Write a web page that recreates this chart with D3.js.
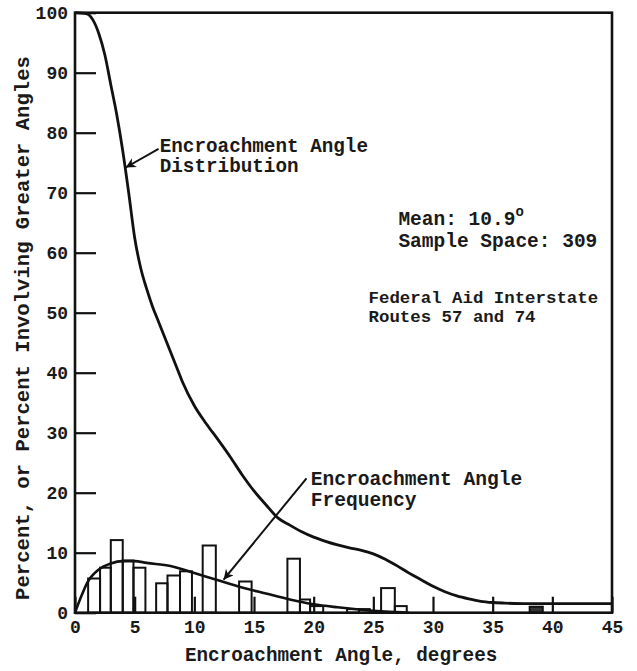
<!DOCTYPE html>
<html lang="en">
<head>
<meta charset="UTF-8">
<title>Encroachment Angle</title>
<style>
  body { margin: 0; background: #fff; }
  text { font-family: "Liberation Mono", "DejaVu Sans Mono", monospace; fill: #1a1a1a; font-weight: bold; }
</style>
</head>
<body>
<div id="chart"></div>
<script src="https://d3js.org/d3.v7.min.js"></script>
<script>
// histogram bins (degrees) and percent frequency
const binLo = [1.1, 2.1, 3.0, 4.0, 4.9, 6.8, 7.75, 8.8, 10.7, 13.75, 17.8, 18.85, 19.7, 22.8, 23.8, 25.65, 26.8, 38.1];
const binHi = [2.1, 3.0, 4.0, 4.9, 5.9, 7.75, 8.8, 9.8, 11.8, 14.8, 18.85, 19.7, 20.8, 23.8, 24.7, 26.8, 27.8, 39.2];
const freq  = [5.7, 7.5, 12.1, 8.7, 7.5, 4.9, 6.2, 6.9, 11.2, 5.2, 9.0, 2.2, 1.1, 0.6, 0.6, 4.1, 1.1, 1.0];

// smoothed frequency curve
const freqAngle = [0, 0.5, 1, 2, 3, 4, 5, 6, 8, 10, 12, 14, 16, 18, 20, 22, 24, 26, 28];
const freqValue = [0, 2.6, 4.9, 7.2, 8.2, 8.6, 8.6, 8.3, 7.8, 6.6, 5.4, 4.2, 3.2, 2.2, 1.4, 0.9, 0.5, 0.2, 0];

// cumulative distribution (percent involving greater angles)
const distAngle = [0, 1, 1.5, 2, 2.5, 3, 3.5, 4, 4.5, 5, 5.5, 6, 6.5, 7, 7.5, 8, 8.5, 9, 10, 11, 12, 13, 14, 15, 16, 17, 18, 19, 20, 21, 22, 23, 24, 25, 26, 27, 28, 29, 30, 31, 32, 33, 34, 35, 36, 38, 45];
const distValue = [100, 99.8, 98.8, 96.5, 93, 88, 83, 77, 70, 62.5, 57.5, 54, 51, 48.5, 46, 43.5, 41, 38.5, 34.5, 31.5, 28.8, 26, 23, 20.3, 18, 15.8, 14.6, 13.5, 12.6, 11.9, 11.3, 10.8, 10.4, 9.8, 8.9, 7.8, 6.6, 5.5, 4.4, 3.5, 2.8, 2.3, 1.9, 1.7, 1.6, 1.5, 1.5];

const xTicks = d3.range(0, 46, 5);
const yTicks = d3.range(0, 101, 10);

const W = 637, H = 671;
const margin = { top: 12.7, right: 25, bottom: 58.3, left: 75 };
const width = W - margin.left - margin.right,
      height = H - margin.top - margin.bottom;

const svg = d3.select("#chart").append("svg")
    .attr("width", W).attr("height", H);

svg.append("defs").append("marker")
    .attr("id", "arrow")
    .attr("viewBox", "0 0 10 10")
    .attr("refX", 10).attr("refY", 5)
    .attr("markerWidth", 16).attr("markerHeight", 10)
    .attr("markerUnits", "userSpaceOnUse")
    .attr("orient", "auto")
    .append("path")
    .attr("d", "M0,0 L10,5 L0,10 L3,5 Z")
    .attr("fill", "#111");

const g = svg.append("g")
    .attr("transform", `translate(${margin.left},${margin.top})`);

const x = d3.scaleLinear().domain([0, 45]).range([0, width]);
const y = d3.scaleLinear().domain([0, 100]).range([height, 0]);

// axes with inward ticks
const yAxis = g.append("g")
    .call(d3.axisLeft(y).tickValues(yTicks).tickSizeInner(-21).tickSizeOuter(0).tickPadding(7));
const xAxis = g.append("g")
    .attr("transform", `translate(0,${height})`)
    .call(d3.axisBottom(x).tickValues(xTicks).tickSizeInner(-16).tickSizeOuter(0).tickPadding(8));

[xAxis, yAxis].forEach(a => {
  a.select(".domain").remove();
  a.selectAll(".tick line").attr("stroke", "#111").attr("stroke-width", 2.2);
  a.selectAll(".tick text").style("font-size", "18px").attr("fill", "#1a1a1a");
});

// histogram bars
const bars = binLo.map((lo, i) => ({ lo: lo, hi: binHi[i], v: freq[i] }));
g.append("g").selectAll("rect")
  .data(bars)
  .join("rect")
    .attr("x", d => x(d.lo))
    .attr("y", d => y(d.v))
    .attr("width", d => x(d.hi) - x(d.lo))
    .attr("height", d => y(0) - y(d.v))
    .attr("fill", (d, i) => i === bars.length - 1 ? "#333" : "none")
    .attr("stroke", "#111")
    .attr("stroke-width", 2);

// frame
g.append("rect")
    .attr("x", 0).attr("y", 0)
    .attr("width", width).attr("height", height)
    .attr("fill", "none").attr("stroke", "#111").attr("stroke-width", 2.6);

const line = d3.line().x(d => x(d[0])).y(d => y(d[1])).curve(d3.curveMonotoneX);

g.append("path")
    .datum(freqAngle.map((a, i) => [a, freqValue[i]]))
    .attr("d", line)
    .attr("fill", "none").attr("stroke", "#111").attr("stroke-width", 2.6);

g.append("path")
    .datum(distAngle.map((a, i) => [a, distValue[i]]))
    .attr("d", line)
    .attr("fill", "none").attr("stroke", "#111").attr("stroke-width", 2.8);

// annotations
function label(lines, ax, av, size, lh) {
  const t = g.append("text")
      .attr("x", x(ax)).attr("y", y(av))
      .style("font-size", size + "px");
  lines.forEach((s, i) => {
    t.append("tspan").attr("x", x(ax)).attr("dy", i === 0 ? 0 : lh).text(s);
  });
  return t;
}

label(["Encroachment Angle", "Distribution"], 7.1, 76.8, 19.3, 20);
g.append("line")
    .attr("x1", x(7.0)).attr("y1", y(77.3))
    .attr("x2", x(4.25)).attr("y2", y(74.2))
    .attr("stroke", "#111").attr("stroke-width", 2)
    .attr("marker-end", "url(#arrow)");

label(["Encroachment Angle"], 19.75, 21.2, 19.6, 0);
label(["Frequency"], 19.75, 17.7, 19.6, 0);
g.append("line")
    .attr("x1", x(19.4)).attr("y1", y(22.4))
    .attr("x2", x(12.45)).attr("y2", y(5.5))
    .attr("stroke", "#111").attr("stroke-width", 2)
    .attr("marker-end", "url(#arrow)");

const mean = g.append("text")
    .attr("x", x(27.1)).attr("y", y(64.6))
    .style("font-size", "19.5px");
mean.append("tspan").text("Mean: 10.9");
mean.append("tspan").attr("dy", -9).style("font-size", "14px").text("o");
label(["Sample Space: 309"], 27.1, 61.0, 19.5, 0);

label(["Federal Aid Interstate", "Routes 57 and 74"], 24.6, 51.6, 17.4, 19);

// axis titles
svg.append("text")
    .attr("x", margin.left + x(22.3)).attr("y", 661)
    .attr("text-anchor", "middle")
    .style("font-size", "19.3px")
    .text("Encroachment Angle, degrees");

svg.append("text")
    .attr("transform", "translate(22,328) rotate(-90)")
    .attr("text-anchor", "middle")
    .attr("dy", "0.35em")
    .style("font-size", "20.6px")
    .text("Percent, or Percent Involving Greater Angles");
</script>
</body>
</html>
